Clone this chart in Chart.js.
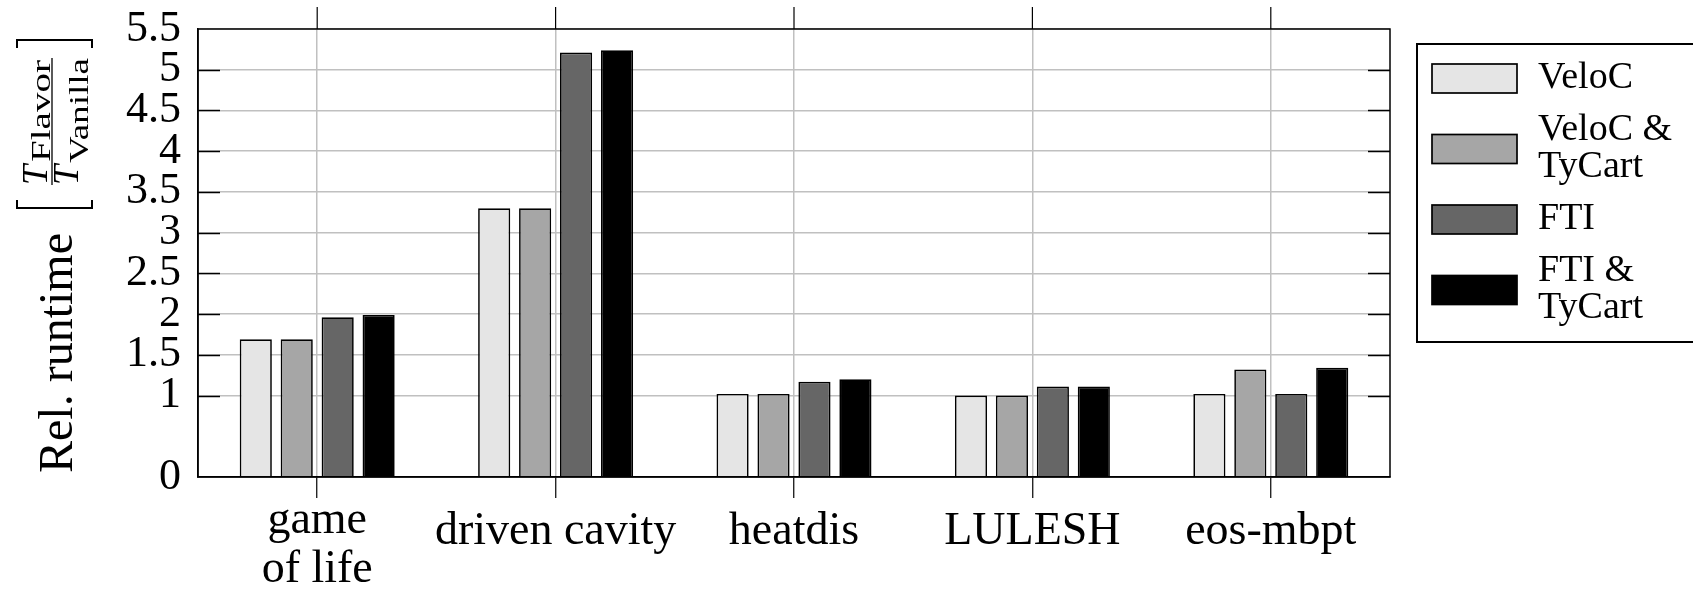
<!DOCTYPE html>
<html>
<head>
<meta charset="utf-8">
<script src="https://cdn.jsdelivr.net/npm/chart.js@4/dist/chart.umd.min.js"></script>
<style>
html,body{margin:0;padding:0;background:#fff;}
#wrap{width:1693px;height:589px;position:relative;}
</style>
</head>
<body>
<div id="wrap"><canvas id="c" width="1693" height="589"></canvas></div>
<script>
// ---- data ----
const categories = [['game', 'of life'], 'driven cavity', 'heatdis', 'LULESH', 'eos-mbpt'];
const seriesNames = ['VeloC', 'VeloC & TyCart', 'FTI', 'FTI & TyCart'];
const veloc       = [1.69, 3.30, 1.02, 1.00, 1.02];
const velocTycart = [1.69, 3.30, 1.02, 1.00, 1.32];
const fti         = [1.96, 5.21, 1.17, 1.11, 1.02];
const ftiTycart   = [1.99, 5.24, 1.20, 1.11, 1.34];
const yTickValues = [0, 1, 1.5, 2, 2.5, 3, 3.5, 4, 4.5, 5, 5.5];
const yTitle = 'Rel. runtime';
const yFracNum = ['T', 'Flavor'];
const yFracDen = ['T', 'Vanilla'];

const FONT = "'Liberation Serif', 'Times New Roman', serif";
const fills = ['#e5e5e5', '#a6a6a6', '#666666', '#000000'];
const seriesValues = [veloc, velocTycart, fti, ftiTycart];

const datasets = seriesNames.map((name, i) => ({
  label: name,
  data: seriesValues[i],
  backgroundColor: fills[i],
  borderColor: '#000',
  borderWidth: 1.7,
  borderSkipped: 'start',
  categoryPercentage: 0.687,
  barPercentage: 0.785
}));

function line(ctx, x1, y1, x2, y2) {
  ctx.beginPath(); ctx.moveTo(x1, y1); ctx.lineTo(x2, y2); ctx.stroke();
}

const framePlugin = {
  id: 'frame',
  afterDraw(chart) {
    const {ctx, chartArea: {left, right, top, bottom}, scales: {x, y}} = chart;
    ctx.save();
    ctx.strokeStyle = '#000';
    ctx.lineWidth = 1.5;
    ctx.strokeRect(left, top, right - left, bottom - top);
    y.ticks.forEach(t => {
      if (t.value === 0 || t.value === 5.5) return;
      const py = Math.round(y.getPixelForValue(t.value)) + 0.5;
      line(ctx, left, py, left + 22, py);
      line(ctx, right - 22, py, right, py);
    });
    ctx.lineWidth = 1.2;
    x.ticks.forEach((t, i) => {
      const px = x.getPixelForTick(i);
      line(ctx, px, top - 22, px, top);
    });
    ctx.restore();
  }
};

function fitText(ctx, text, x, y, targetLen) {
  const w = ctx.measureText(text).width;
  ctx.save();
  ctx.translate(x, y);
  ctx.scale(targetLen / w, 1);
  ctx.fillText(text, 0, 0);
  ctx.restore();
}

const titlePlugin = {
  id: 'ytitle',
  afterDraw(chart) {
    const ctx = chart.ctx;
    ctx.save();
    ctx.fillStyle = '#000';
    ctx.strokeStyle = '#000';
    // main title
    ctx.save();
    ctx.translate(72, 353);
    ctx.rotate(-Math.PI / 2);
    ctx.font = `48px ${FONT}`;
    ctx.textAlign = 'center';
    ctx.textBaseline = 'alphabetic';
    ctx.fillText(yTitle, 0, 0);
    ctx.restore();
    // bracketed fraction
    ctx.save();
    ctx.translate(52, 185);
    ctx.rotate(-Math.PI / 2);
    ctx.lineWidth = 1.3;
    line(ctx, 0, 0, 127, 0);
    ctx.lineWidth = 2;
    ctx.beginPath();
    ctx.moveTo(-15, -35); ctx.lineTo(-23, -35); ctx.lineTo(-23, 40); ctx.lineTo(-15, 40);
    ctx.stroke();
    ctx.beginPath();
    ctx.moveTo(137, -35); ctx.lineTo(145, -35); ctx.lineTo(145, 40); ctx.lineTo(137, 40);
    ctx.stroke();
    ctx.textAlign = 'left';
    ctx.textBaseline = 'alphabetic';
    // numerator
    ctx.font = `italic 36px ${FONT}`;
    ctx.fillText(yFracNum[0], 0, -5);
    ctx.font = `27px ${FONT}`;
    fitText(ctx, yFracNum[1], 23, -2, 102);
    // denominator
    ctx.font = `italic 36px ${FONT}`;
    ctx.fillText(yFracDen[0], 0, 26);
    ctx.font = `27px ${FONT}`;
    fitText(ctx, yFracDen[1], 22, 36, 105);
    ctx.restore();
    ctx.restore();
  }
};

const legendPlugin = {
  id: 'customLegend',
  afterDraw(chart) {
    const ctx = chart.ctx;
    ctx.save();
    ctx.strokeStyle = '#000';
    ctx.lineWidth = 2;
    ctx.fillStyle = '#fff';
    ctx.beginPath();
    ctx.rect(1417, 44, 400, 298);
    ctx.fill();
    ctx.stroke();
    ctx.font = `38px ${FONT}`;
    ctx.textAlign = 'left';
    ctx.textBaseline = 'middle';
    chart.data.datasets.forEach((ds, i) => {
      const cy = 78 + i * 70.5;
      ctx.fillStyle = ds.backgroundColor;
      ctx.fillRect(1432, cy - 14, 85, 29);
      ctx.lineWidth = 1.7;
      ctx.strokeRect(1432, cy - 14, 85, 29);
      ctx.fillStyle = '#000';
      const parts = ds.label.split(' & ');
      const lines = parts.length > 1 ? [parts[0] + ' &', parts.slice(1).join(' & ')] : parts;
      const lh = 37;
      lines.forEach((t, k) => {
        const ty = cy + (k - (lines.length - 1) / 2) * lh;
        ctx.fillText(t, 1538, ty);
      });
    });
    ctx.restore();
  }
};

new Chart(document.getElementById('c'), {
  type: 'bar',
  data: { labels: categories, datasets },
  plugins: [framePlugin, titlePlugin, legendPlugin],
  options: {
    responsive: false,
    animation: false,
    devicePixelRatio: 1,
    layout: { padding: { top: 29, right: 303, left: 0, bottom: 0 } },
    plugins: { legend: { display: false }, tooltip: { enabled: false } },
    scales: {
      x: {
        offset: true,
        grid: { offset: false, color: '#c0c0c0', lineWidth: 1.5, tickColor: '#000', tickLength: 21, tickWidth: 1.2 },
        border: { display: true, color: '#000', width: 1.5 },
        ticks: {
          font: c => ({ family: FONT, size: 46, lineHeight: Array.isArray(categories[c.index]) ? 49 / 46 : 76 / 46 }),
          color: '#000', padding: 23, maxRotation: 0, autoSkip: false, crossAlign: 'center'
        },
        afterFit(s) { s.height = 112; s.paddingLeft = 0; s.paddingRight = 0; }
      },
      y: {
        min: 0,
        max: 5.5,
        afterBuildTicks(s) { s.ticks = yTickValues.map(v => ({ value: v })); },
        grid: {
          color: c => (c.tick && c.tick.value === 0) ? 'rgba(0,0,0,0)' : '#c0c0c0',
          lineWidth: 1.5,
          drawTicks: false
        },
        border: { display: true, color: '#000', width: 1.5 },
        ticks: { font: { family: FONT, size: 44, lineHeight: 1 }, color: '#000', padding: 17, autoSkip: false, callback: v => String(v) },
        afterFit(s) { s.width = 198; s.paddingTop = 0; s.paddingBottom = 0; }
      }
    }
  }
});
</script>
</body>
</html>
